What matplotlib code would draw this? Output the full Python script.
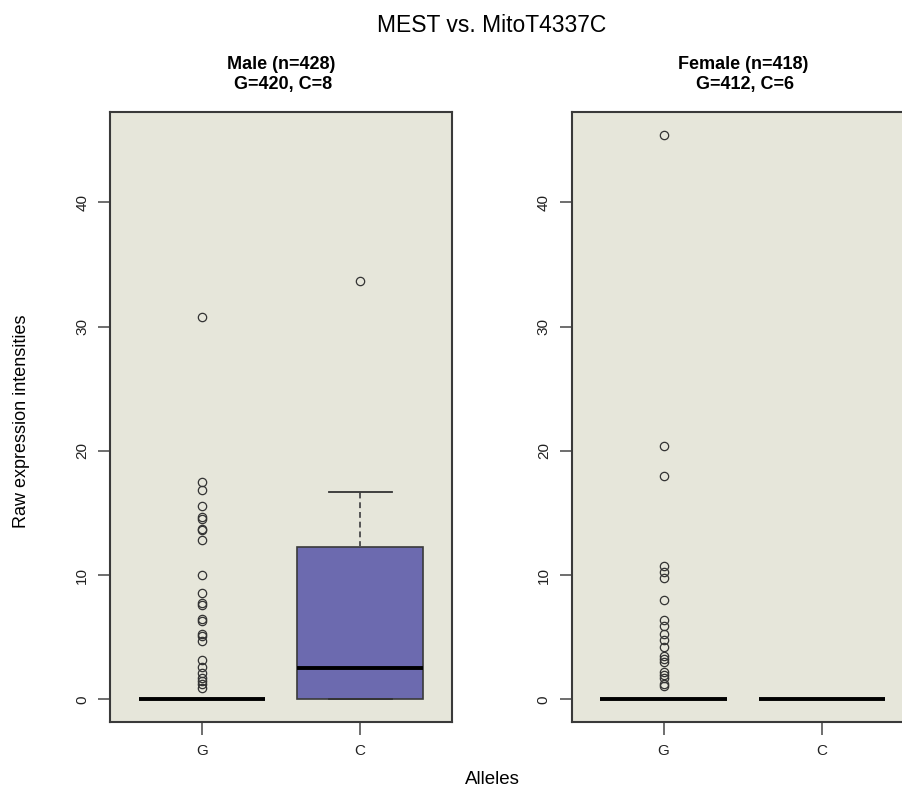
import matplotlib.pyplot as plt

plt.rcParams['font.family'] = ['Liberation Sans', 'DejaVu Sans']

alleles = ['G', 'C']
panel_titles = ['Male (n=428)\n G=420, C=8', 'Female (n=418)\n G=412, C=6']

# boxplot stats (G, C)
male_q1 = [0, 0]
male_med = [0, 2.55]
male_q3 = [0, 12.3]
male_lo = [0, 0]
male_hi = [0, 16.7]
male_g_out = [30.8, 17.5, 16.85, 15.55, 14.67, 14.5, 13.7, 13.6, 12.85, 10.0,
              8.55, 7.75, 7.6, 6.45, 6.3, 5.3, 5.1, 4.7, 3.2, 2.6, 2.1, 1.7,
              1.45, 1.2, 0.95]
male_c_out = [33.65]

female_q1 = [0, 0]
female_med = [0, 0]
female_q3 = [0, 0]
female_lo = [0, 0]
female_hi = [0, 0]
female_g_out = [45.45, 20.4, 18.0, 10.74, 10.26, 9.79, 7.96, 6.38, 5.91, 5.28,
                4.75, 4.18, 3.49, 3.27, 3.0, 2.23, 2.0, 1.75, 1.28, 1.05]
female_c_out = []

panels = [
    (male_q1, male_med, male_q3, male_lo, male_hi, [male_g_out, male_c_out]),
    (female_q1, female_med, female_q3, female_lo, female_hi, [female_g_out, female_c_out]),
]

bg = '#E6E6DA'
boxcol = '#6C6AAF'
linecol = '#3a3a3a'

allvals = [v for p in panels for fl in p[5] for v in fl] + [0]
ymin, ymax = min(allvals), max(allvals)
pad = 0.04 * (ymax - ymin)

fig = plt.figure(figsize=(9.02, 7.89), dpi=100)
lefts = [110 / 902, 571.7 / 902]

for i, (q1, med, q3, lo, hi, fl) in enumerate(panels):
    ax = fig.add_axes([lefts[i], 67 / 789, 342 / 902, 610 / 789])
    ax.set_facecolor(bg)
    stats = []
    for j in range(len(alleles)):
        stats.append(dict(q1=q1[j], med=med[j], q3=q3[j], whislo=lo[j],
                          whishi=hi[j], fliers=fl[j], label=alleles[j]))
    ax.bxp(stats, positions=[1, 2], widths=0.8, capwidths=0.4, patch_artist=True,
           boxprops=dict(facecolor=boxcol, edgecolor=linecol, linewidth=1.2),
           medianprops=dict(color='black', linewidth=2.8, solid_capstyle='butt'),
           whiskerprops=dict(color='#555555', linewidth=1.4, linestyle=(0, (3, 2))),
           capprops=dict(color='#333333', linewidth=1.3),
           flierprops=dict(marker='o', markerfacecolor='none', markeredgecolor='#333333',
                           markersize=6, markeredgewidth=0.9))
    ax.set_xlim(0.42, 2.58)
    ax.set_ylim(ymin - pad, ymax + pad)
    ax.set_yticks([0, 10, 20, 30, 40])
    ax.tick_params(direction='out', length=9, width=1.2, color='#555555',
                   labelsize=11, labelcolor='#222222')
    ax.tick_params(axis='y', pad=6)
    ax.tick_params(axis='x', pad=7)
    plt.setp(ax.get_yticklabels(), rotation=90, va='center')
    for s in ax.spines.values():
        s.set_color(linecol)
        s.set_linewidth(1.5)
    ax.text(0.5, 1.062, panel_titles[i], transform=ax.transAxes, ha='center',
            va='center', fontsize=13, fontweight='bold', linespacing=1.25)

fig.text(492 / 902, 1 - 26 / 789, 'MEST vs. MitoT4337C', ha='center', va='center',
         fontsize=16.5)
fig.text(492 / 902, 1 - 779 / 789, 'Alleles', ha='center', va='center', fontsize=13.5)
fig.text(22 / 902, 1 - 421 / 789, 'Raw expression intensities', ha='center',
         va='center', rotation=90, fontsize=13)

fig.savefig('out.png', dpi=100)
